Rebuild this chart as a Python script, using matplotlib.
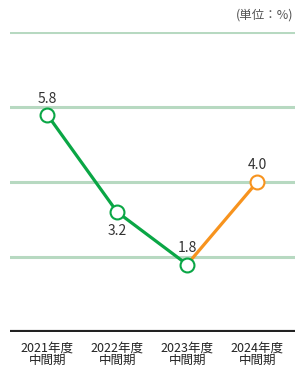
import matplotlib
matplotlib.use("Agg")
from matplotlib import pyplot as plt

plt.rcParams['font.family'] = ['Noto Sans CJK JP', 'DejaVu Sans']

years = ["2021年度\n中間期", "2022年度\n中間期", "2023年度\n中間期", "2024年度\n中間期"]
values = [5.8, 3.2, 1.8, 4.0]
grid_vals = [2, 4, 6, 8]

green = "#0aa645"
orange = "#f7931e"

fig = plt.figure(figsize=(2.95, 3.72), dpi=100)
ax = fig.add_axes([10/295, 40/372, 285/295, 300/372])
ax.set_xlim(-0.53, 3.54)
ax.set_ylim(0, 8)

for g in grid_vals:
    ax.axhline(g, color="#b7d9c1", lw=2.2, zorder=1)
ax.axhline(0, color="#222222", lw=3, zorder=1)

x = list(range(len(values)))
ax.plot(x[:3], values[:3], color=green, lw=2.3, zorder=2)
ax.plot(x[2:], values[2:], color=orange, lw=2.3, zorder=2)
for i, v in enumerate(values):
    c = orange if i == 3 else green
    ax.plot(i, v, "o", ms=10, mfc="white", mec=c, mew=1.5, zorder=3)

offsets = [(0, 11), (0, -14), (0, 12), (0, 12)]
for i, v in enumerate(values):
    dx, dy = offsets[i]
    ax.annotate(f"{v:.1f}", (i, v), xytext=(dx, dy), textcoords="offset points",
                ha="center", va="center", fontsize=10, color="#333333")

ax.set_xticks(x)
ax.set_xticklabels(years, fontsize=9, color="#222222", linespacing=0.95)
ax.tick_params(axis="x", length=0, pad=7)
ax.set_yticks([])
for s in ax.spines.values():
    s.set_visible(False)

fig.text(0.995, 1 - 15/372, "(単位：%)", ha="right", va="center", fontsize=9, color="#555555")

fig.savefig("out.png", dpi=100)
